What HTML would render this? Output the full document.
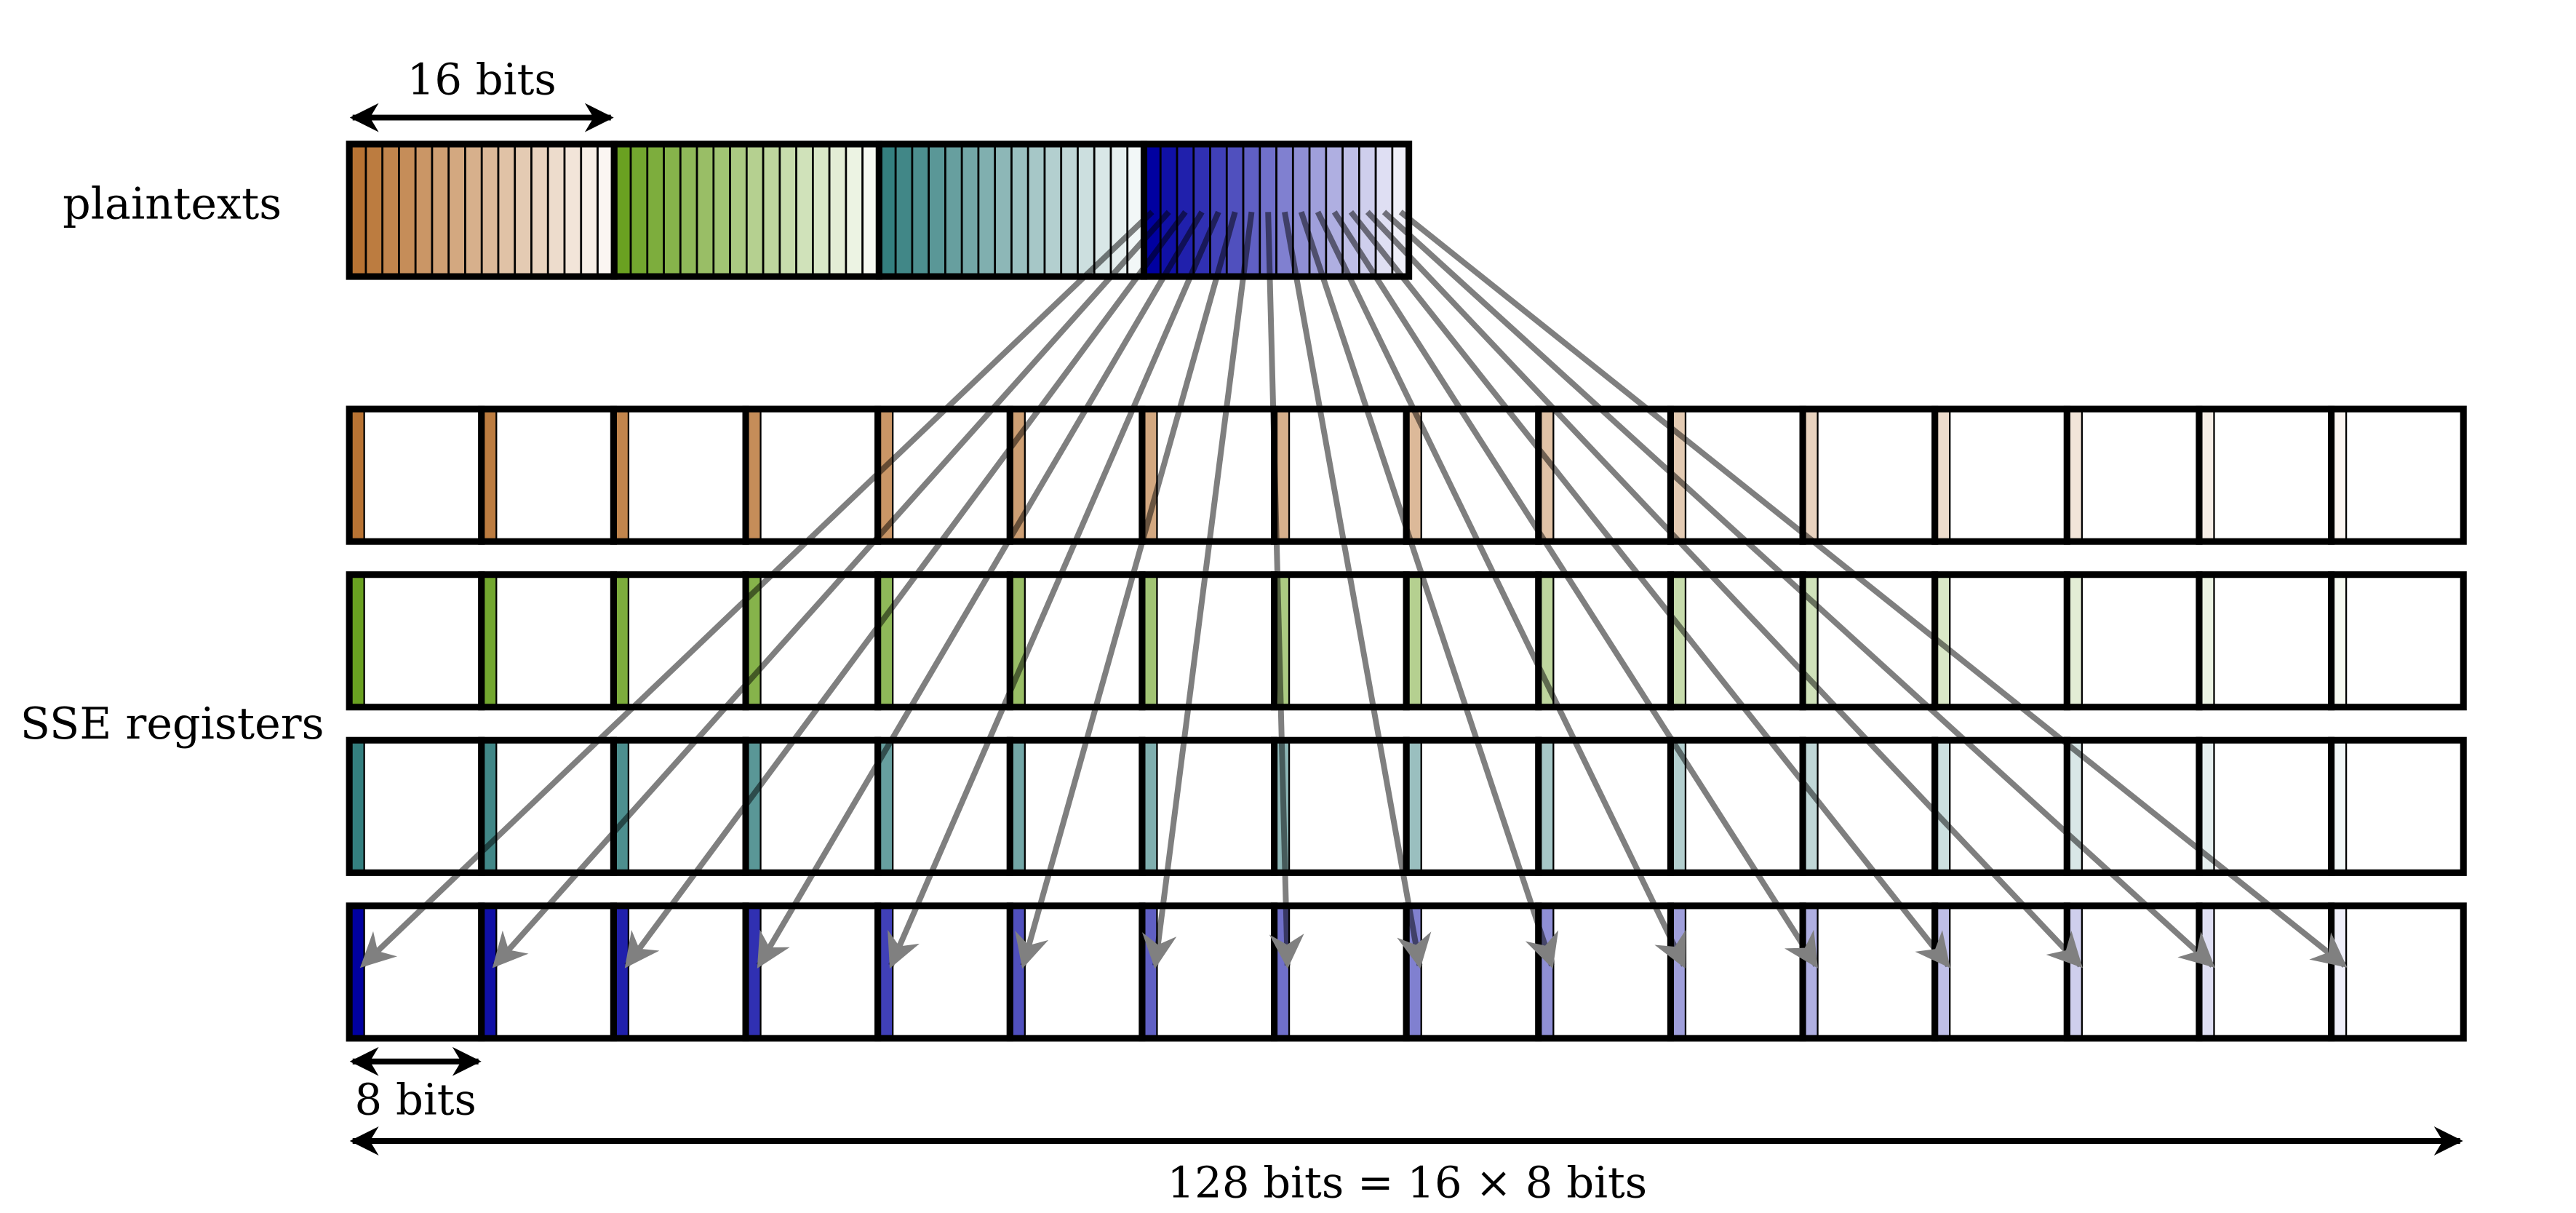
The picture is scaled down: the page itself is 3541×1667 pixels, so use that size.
<!DOCTYPE html>
<html><head><meta charset="utf-8"><style>
html,body{margin:0;padding:0;background:#fff;}
svg{display:block;}
text{font-family:"DejaVu Serif","Liberation Serif",serif;fill:#000;}
</style></head><body>
<svg id="fig" width="3541" height="1667" viewBox="0 0 1556 732.5" preserveAspectRatio="none" xmlns="http://www.w3.org/2000/svg">
<defs>
<marker id="ah" viewBox="0 0 10 10" refX="9" refY="5" markerWidth="5" markerHeight="5" orient="auto-start-reverse" markerUnits="strokeWidth"><path d="M0,0 L10,5 L0,10 L3,5 Z" fill="#000"/></marker>
<marker id="gh" viewBox="0 0 10 10" refX="9" refY="5" markerWidth="7" markerHeight="6" orient="auto" markerUnits="strokeWidth"><path d="M0,0 L10,5 L0,10 L3,5 Z" fill="#808080"/></marker>
</defs>
<g id="stripes"></g>
<g id="regs"></g>
<g id="arrows"></g>
<text x="291" y="57" font-size="26" text-anchor="middle">16 bits</text>
<line x1="213" y1="71" x2="369" y2="71" stroke="#000" stroke-width="3.5" marker-start="url(#ah)" marker-end="url(#ah)"/>
<text x="104" y="132" font-size="26.5" text-anchor="middle">plaintexts</text>
<text x="104" y="446" font-size="26.5" text-anchor="middle">SSE registers</text>
<line x1="213" y1="641" x2="289" y2="641" stroke="#000" stroke-width="3.5" marker-start="url(#ah)" marker-end="url(#ah)"/>
<text x="251" y="673" font-size="26" text-anchor="middle">8 bits</text>
<line x1="213" y1="689" x2="1486" y2="689" stroke="#000" stroke-width="3.5" marker-start="url(#ah)" marker-end="url(#ah)"/>
<text x="850" y="723" font-size="26" text-anchor="middle">128 bits = 16 × 8 bits</text>
</svg>
<script>
const groupNames = ['brown','green','teal','blue'];
const groupBase = [[184,115,51],[106,161,33],[52,127,127],[0,0,160]];
const bitsPerGroup = 16;
const NS='http://www.w3.org/2000/svg';
function mk(tag,attrs,parent){const e=document.createElementNS(NS,tag);for(const k in attrs)e.setAttribute(k,attrs[k]);parent.appendChild(e);return e;}
function shade(g,j){const b=groupBase[g];const t=j/bitsPerGroup;return 'rgb('+b.map(v=>Math.round(v+(255-v)*t)).join(',')+')';}
const PX=211, PY=87, PH=80, SW=10;
const RX=211, RW=1277, RH=80, rowY=[247,347,447,547];
const stripes=document.getElementById('stripes');
for(let g=0;g<groupNames.length;g++){
  for(let j=0;j<bitsPerGroup;j++){
    const r=mk('rect',{x:PX+(g*bitsPerGroup+j)*SW,y:PY,width:SW,height:PH,fill:shade(g,j),stroke:'#000','stroke-width':1.2},stripes);
    
    
  }
  const b=mk('rect',{x:PX+g*bitsPerGroup*SW,y:PY,width:bitsPerGroup*SW,height:PH,fill:'none',stroke:'#000','stroke-width':4},stripes);
  
  
}
const regs=document.getElementById('regs');
const CW=RW/bitsPerGroup;
for(let r=0;r<rowY.length;r++){
  for(let i=0;i<bitsPerGroup;i++){
    const s=mk('rect',{x:RX+i*CW+1,y:rowY[r],width:8,height:RH,fill:shade(r,i),stroke:'#000','stroke-width':1},regs);
    
    
    const c=mk('rect',{x:RX+i*CW,y:rowY[r],width:CW,height:RH,fill:'none',stroke:'#000','stroke-width':4},regs);
    
    
  }
}
const arrows=document.getElementById('arrows');
for(let i=0;i<bitsPerGroup;i++){
  const x1=PX+(3*bitsPerGroup+i)*SW+SW/2, y1=128;
  const x2=RX+i*CW+8, y2=583;
  const l=mk('line',{x1:x1,y1:y1,x2:x2,y2:y2,stroke:'#000','stroke-opacity':0.5,'stroke-width':3.5,'marker-end':'url(#gh)'},arrows);
  
  
}
</script>
</body></html>
